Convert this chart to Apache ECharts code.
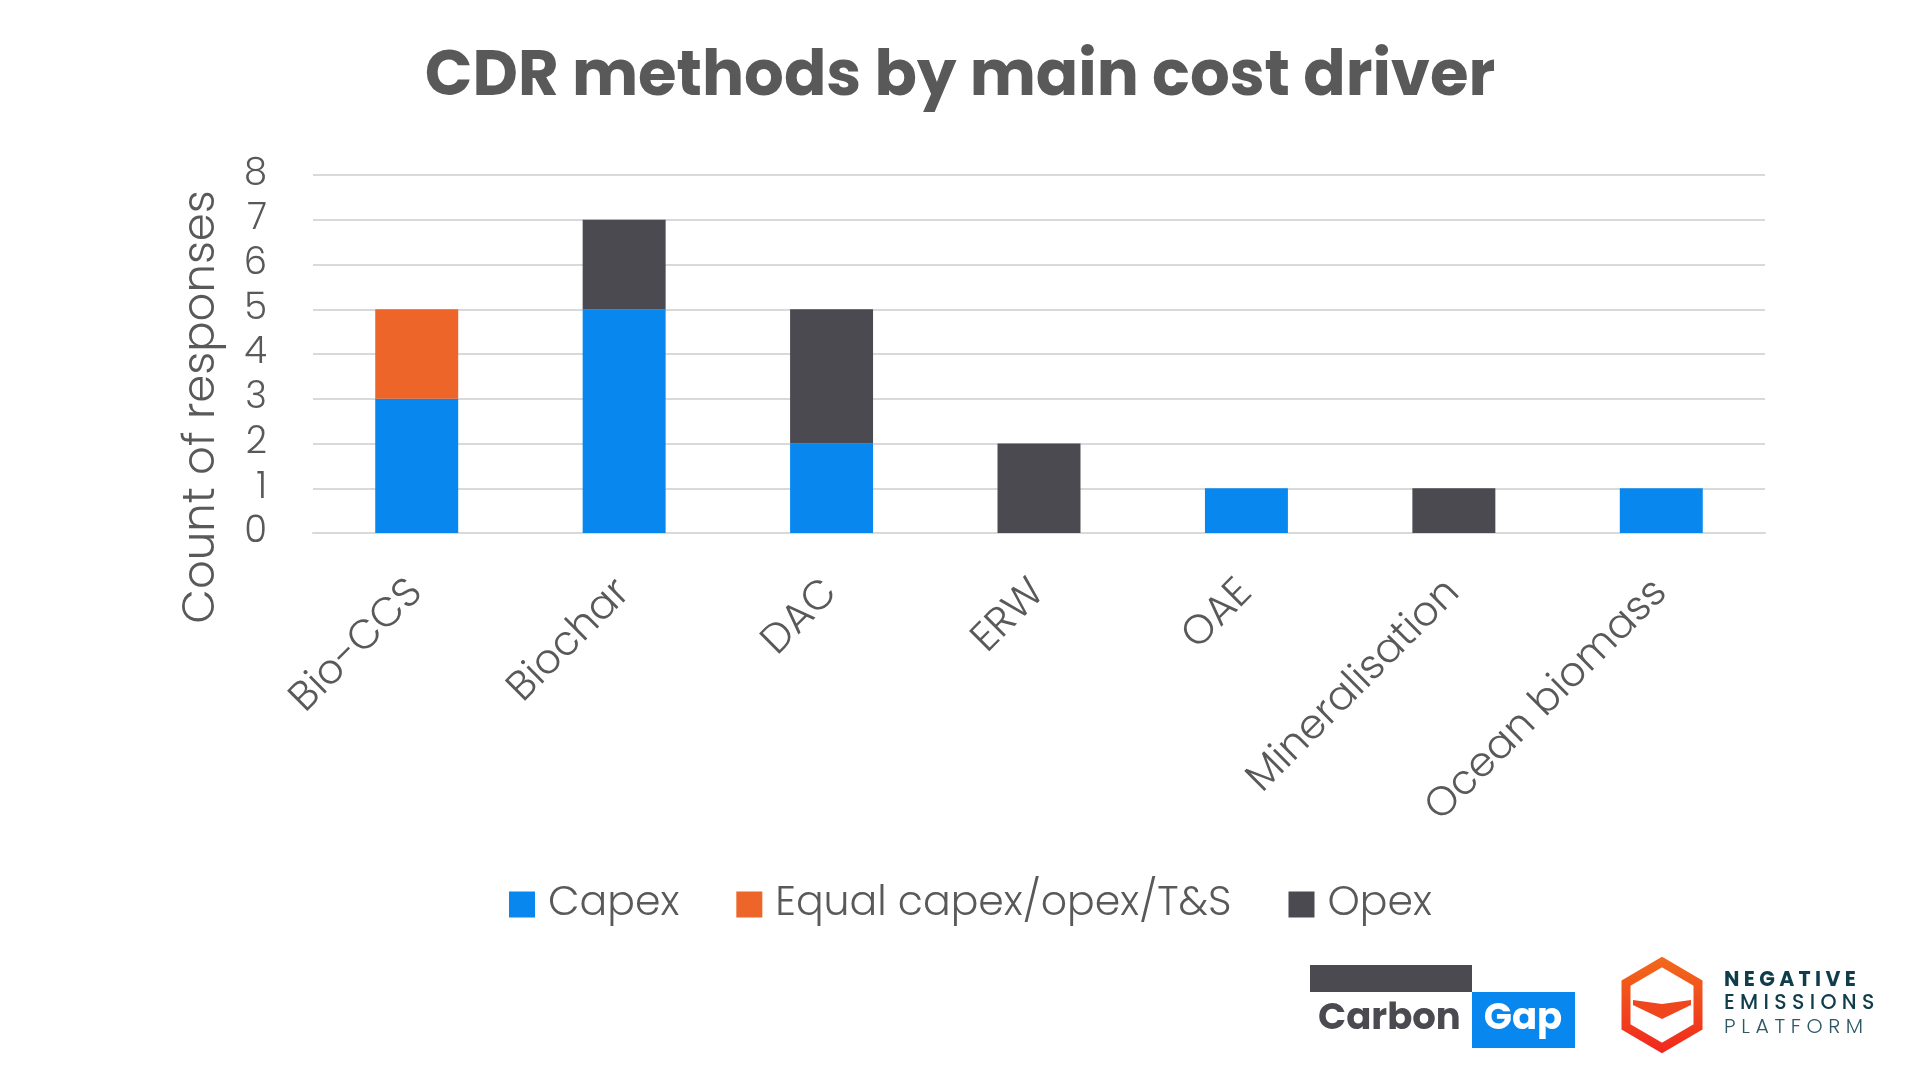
<!DOCTYPE html>
<html>
<head>
<meta charset="utf-8">
<title>CDR methods by main cost driver</title>
<script src="https://cdn.jsdelivr.net/npm/echarts@6/dist/echarts.min.js"></script>
<style>
  html, body { margin: 0; padding: 0; background: #fff; }
  #chart { width: 1920px; height: 1080px; }
</style>
</head>
<body>
<div id="chart"></div>
<script>
// data
var methods = ["Bio-CCS", "Biochar", "DAC", "ERW", "OAE", "Mineralisation", "Ocean biomass"];
var capex = [3, 5, 2, 0, 1, 0, 1];
var equalCost = [2, 0, 0, 0, 0, 0, 0];
var opex = [0, 2, 3, 2, 0, 1, 0];
var seriesNames = ["Capex", "Equal capex/opex/T&S", "Opex"];
var seriesColors = ["#0888EE", "#EE652A", "#4B4A50"];

var textGrey = "#595959";
var labelFont = "Poppins, Inter, 'Open Sans', sans-serif";

var myChart = echarts.init(document.getElementById("chart"));

function barSeries(name, values, color) {
  return {
    name: name,
    type: "bar",
    stack: "total",
    barWidth: "40%",
    itemStyle: { color: color },
    emphasis: { disabled: true },
    data: values
  };
}

var option = {
  backgroundColor: "#fff",
  animation: false,
  title: {
    text: "CDR methods by main cost driver",
    left: "center",
    top: 43,
    textStyle: {
      fontFamily: labelFont,
      fontSize: 62.5,
      fontWeight: "bold",
      color: textGrey
    }
  },
  grid: {
    left: 313,
    right: 155,
    top: 175,
    bottom: 547,
    containLabel: false
  },
  legend: {
    top: 879,
    left: 504,
    itemWidth: 26,
    itemHeight: 26,
    itemGap: 57,
    icon: "rect",
    textStyle: {
      fontFamily: labelFont,
      fontSize: 41,
      fontWeight: 300,
      color: textGrey,
      padding: [0, 0, 0, 8]
    },
    data: seriesNames
  },
  xAxis: {
    type: "category",
    data: methods,
    axisLine: { lineStyle: { color: "#d9d9d9", width: 2 } },
    axisTick: { show: false },
    axisLabel: {
      rotate: 45,
      margin: 54,
      interval: 0,
      fontFamily: labelFont,
      fontSize: 41,
      fontWeight: 300,
      color: textGrey
    }
  },
  yAxis: {
    type: "value",
    min: 0,
    max: 8,
    interval: 1,
    name: "Count of responses",
    nameLocation: "middle",
    nameGap: 88,
    nameTextStyle: {
      fontFamily: labelFont,
      fontSize: 45,
      fontWeight: 300,
      color: textGrey,
      padding: [0, 106, 0, 0]
    },
    axisLine: { show: false },
    axisTick: { show: false },
    splitLine: { lineStyle: { color: "#d9d9d9", width: 2 } },
    axisLabel: {
      margin: 46,
      fontFamily: labelFont,
      fontSize: 37,
      fontWeight: 300,
      color: textGrey
    }
  },
  series: [
    barSeries(seriesNames[0], capex, seriesColors[0]),
    barSeries(seriesNames[1], equalCost, seriesColors[1]),
    barSeries(seriesNames[2], opex, seriesColors[2])
  ],
  graphic: [
    // Carbon Gap logo
    { type: "rect", shape: { x: 1310, y: 965, width: 162, height: 27 }, style: { fill: "#4B4A50" } },
    { type: "rect", shape: { x: 1472, y: 992, width: 103, height: 56 }, style: { fill: "#0888EE" } },
    { type: "text", x: 1318, y: 1020, style: { text: "Carbon", fontFamily: labelFont, fontSize: 37, fontWeight: "bold", fill: "#4B4A50", textVerticalAlign: "middle" } },
    { type: "text", x: 1523, y: 1020, style: { text: "Gap", fontFamily: labelFont, fontSize: 37, fontWeight: "bold", fill: "#fff", textAlign: "center", textVerticalAlign: "middle" } },
    // Negative Emissions Platform logo
    {
      type: "polygon",
      shape: { points: [[1662, 962], [1698, 983], [1698, 1027], [1662, 1048], [1626, 1027], [1626, 983]] },
      style: {
        fill: "none",
        lineWidth: 9,
        stroke: new echarts.graphic.LinearGradient(0, 0, 0, 1, [
          { offset: 0, color: "#F26A1B" },
          { offset: 1, color: "#F0281E" }
        ])
      }
    },
    {
      type: "polygon",
      shape: { points: [[1633, 1000], [1662, 1004], [1691, 1000], [1691, 1005], [1662, 1019], [1633, 1005]] },
      style: { fill: "#F0461E" }
    },
    { type: "text", x: 1724, y: 981, style: { text: "N E G A T I V E", fontFamily: labelFont, fontSize: 20.5, fontWeight: "bold", fill: "#0F3D4C", textVerticalAlign: "middle" } },
    { type: "text", x: 1724, y: 1004, style: { text: "E M I S S I O N S", fontFamily: labelFont, fontSize: 20.5, fontWeight: 500, fill: "#0F3D4C", textVerticalAlign: "middle" } },
    { type: "text", x: 1724, y: 1028, style: { text: "P L A T F O R M", fontFamily: labelFont, fontSize: 20.5, fontWeight: 300, fill: "#2E5866", textVerticalAlign: "middle" } }
  ]
};

myChart.setOption(option);
</script>
</body>
</html>
